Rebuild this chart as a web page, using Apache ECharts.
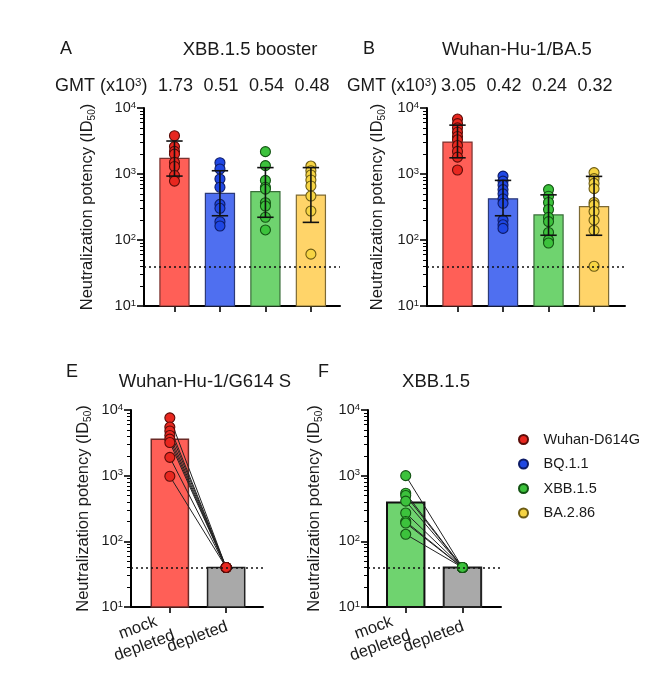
<!DOCTYPE html>
<html><head><meta charset="utf-8">
<script src="https://cdn.jsdelivr.net/npm/echarts@6/dist/echarts.min.js"></script>
<style>html,body{margin:0;padding:0;background:#fff}#c{width:669px;height:680px}</style>
</head><body><div id="c"></div>
<script>
// ---------------- data ----------------
const variants = ['Wuhan-D614G', 'BQ.1.1', 'XBB.1.5', 'BA.2.86'];
const yTicks = [10, 100, 1000, 10000];
const yMinorTicks = [20,30,40,50,60,70,80,90,200,300,400,500,600,700,800,900,2000,3000,4000,5000,6000,7000,8000,9000];
const limitOfDetection = 40;

const titleA = 'XBB.1.5 booster';
const titleB = 'Wuhan-Hu-1/BA.5';
const titleE = 'Wuhan-Hu-1/G614 S';
const titleF = 'XBB.1.5';

const gmtA = [1.73, 0.51, 0.54, 0.48];
const gmtB = [3.05, 0.42, 0.24, 0.32];
const barA = [1730, 510, 540, 480];
const barB = [3050, 420, 240, 320];
const errLowA = [930, 233, 221, 185];
const errHighA = [3160, 1120, 1250, 1250];
const errLowB = [1760, 233, 118, 118];
const errHighB = [5500, 800, 483, 920];

const ptsA_wuhan = [3800, 2600, 2200, 2000, 1500, 1300, 950, 780];
const ptsA_bq = [1480, 1190, 840, 630, 347, 302, 189, 163];
const ptsA_xbb = [2180, 1340, 800, 630, 590, 367, 327, 221, 142];
const ptsA_ba286 = [1320, 1120, 966, 811, 658, 464, 275, 61];

const ptsB_wuhan = [6800, 5800, 5000, 4300, 3700, 3300, 2700, 2200, 1800, 1150];
const ptsB_bq = [930, 780, 680, 580, 500, 420, 360, 200, 170, 150];
const ptsB_xbb = [580, 460, 370, 290, 220, 190, 130, 100, 90];
const ptsB_ba286 = [1050, 850, 720, 600, 370, 340, 270, 200, 140, 40];

const xLabelsEF = ['mock\ndepleted', 'depleted'];
const barE = [3600, 40];
const mockE = [7600, 5500, 4800, 4100, 3600, 3200, 1900, 980];
const deplE = [40, 40, 40, 40, 40, 40, 40, 40];
const barF = [390, 40];
const mockF = [1000, 540, 500, 410, 270, 200, 190, 128];
const deplF = [40, 40, 40, 40, 40, 40, 40, 40];

// ---------------- styles ----------------
const FONT = '"Liberation Sans", Arial, sans-serif';
const TXT = '#1a1a1a';
const barFill = ['#ff5f57', '#4f6ff0', '#6fd36f', '#ffd469'];
const barStroke = ['#7a3330', '#2c3a78', '#3a6e3a', '#7d6a35'];
const ptFill = ['#e8271f', '#1f47e4', '#3cc23c', '#f6d443'];
const ptStroke = ['#5a0c08', '#0d1b66', '#135313', '#6b5a12'];
const grayFill = '#a9a9a9';

const ptsA = [ptsA_wuhan, ptsA_bq, ptsA_xbb, ptsA_ba286];
const ptsB = [ptsB_wuhan, ptsB_bq, ptsB_xbb, ptsB_ba286];

const chart = echarts.init(document.getElementById('c'), null, {renderer: 'canvas'});

const grids = [
  {left: 144, top: 108, width: 196, height: 198},
  {left: 427, top: 108, width: 198, height: 198},
  {left: 131, top: 410, width: 132, height: 197},
  {left: 368, top: 410, width: 133, height: 197}
];
const xRanges = [[-0.67, 3.64], [-0.67, 3.68], [-0.69, 1.655], [-0.665, 1.68]];
const nameGaps = [47, 40, 38, 44];

function supLabel(v) {
  const e = Math.round(Math.log10(v));
  return '{b|10}{p|' + e + '}';
}

const xAxes = grids.map((g, i) => ({
  gridIndex: i, type: 'value', min: xRanges[i][0], max: xRanges[i][1], position: 'bottom',
  axisLine: {show: true, onZero: false, lineStyle: {color: '#000', width: 2}},
  axisTick: {show: true, customValues: i < 2 ? [0, 1, 2, 3] : [0, 1], length: 6, lineStyle: {color: '#000', width: 1.6}},
  axisLabel: {show: false},
  splitLine: {show: false}
}));

const yMajor = grids.map((g, i) => ({
  gridIndex: i, type: 'log', logBase: 10, min: 10, max: 10000, position: 'left',
  axisLine: {show: true, onZero: false, lineStyle: {color: '#000', width: 2}},
  axisTick: {show: true, customValues: yTicks, length: 7, lineStyle: {color: '#000', width: 1.6}},
  axisLabel: {show: true, customValues: yTicks, margin: 8, formatter: supLabel,
    rich: {b: {fontSize: 14.5, lineHeight: 16, fontFamily: FONT, color: TXT},
           p: {fontSize: 9.5, lineHeight: 9, verticalAlign: 'top', fontFamily: FONT, color: TXT}}},
  splitLine: {show: false},
  name: 'Neutralization potency (ID{s|50})', nameLocation: 'middle', nameGap: nameGaps[i], nameRotate: 90,
  nameTextStyle: {fontSize: 16.5, lineHeight: 20, fontFamily: FONT, color: TXT,
    rich: {s: {fontSize: 10, lineHeight: 10, verticalAlign: 'bottom', fontFamily: FONT, color: TXT}}}
}));
const yMinor = grids.map((g, i) => ({
  gridIndex: i, type: 'log', logBase: 10, min: 10, max: 10000, position: 'left', offset: 0,
  axisLine: {show: false, onZero: false},
  axisTick: {show: true, customValues: yMinorTicks, length: 4, lineStyle: {color: '#000', width: 1}},
  axisLabel: {show: false}, splitLine: {show: false}
}));

function barSeries(g, vals, fills, strokes, lw, half) {
  return {
    type: 'custom', xAxisIndex: g, yAxisIndex: g, z: 2, silent: true,
    data: vals.map((v, i) => [i, v]),
    renderItem: (p, api) => {
      const i = api.value(0), v = api.value(1);
      const a = api.coord([i - half, v]), b = api.coord([i + half, 10]);
      return {type: 'rect', shape: {x: a[0], y: a[1], width: b[0] - a[0], height: b[1] - a[1]},
        style: {fill: fills[i], stroke: strokes[i], lineWidth: lw}};
    }
  };
}
function errSeries(g, lo, hi, capHalf) {
  return {
    type: 'custom', xAxisIndex: g, yAxisIndex: g, z: 5, silent: true,
    data: lo.map((l, i) => [i, l, hi[i]]),
    renderItem: (p, api) => {
      const i = api.value(0);
      const a = api.coord([i, api.value(1)]), b = api.coord([i, api.value(2)]);
      const ca = api.coord([i - capHalf, api.value(1)]), cb = api.coord([i + capHalf, api.value(1)]);
      const st = {stroke: '#111', lineWidth: 1.6};
      return {type: 'group', children: [
        {type: 'line', shape: {x1: a[0], y1: a[1], x2: b[0], y2: b[1]}, style: st},
        {type: 'line', shape: {x1: ca[0], y1: a[1], x2: cb[0], y2: a[1]}, style: st},
        {type: 'line', shape: {x1: ca[0], y1: b[1], x2: cb[0], y2: b[1]}, style: st}
      ]};
    }
  };
}
function gmtSeries(g, gmt) {
  return {
    type: 'custom', xAxisIndex: g, yAxisIndex: g, silent: true, clip: false,
    data: gmt.map((v, i) => [i, v]),
    renderItem: (p, api) => {
      const x = api.coord([api.value(0), 10000])[0];
      return {type: 'text', x: x + 1, y: p.coordSys.y - 22,
        style: {text: api.value(1).toFixed(2), align: 'center', verticalAlign: 'middle',
          fontSize: 18, fontFamily: FONT, fill: TXT}};
    }
  };
}
function xLabelSeries(g, labels) {
  return {
    type: 'custom', xAxisIndex: g, yAxisIndex: g, silent: true, clip: false,
    data: labels.map((l, i) => [i, 10]),
    renderItem: (p, api) => {
      const i = api.value(0);
      const c = api.coord([i, 10]);
      const txt = labels[i].split('\n').map(s => '{c|' + s + '}').join('\n');
      return {type: 'text', x: c[0] + 1, y: c[1] + 19, rotation: 20 * Math.PI / 180,
        style: {text: txt, align: 'right', verticalAlign: 'middle',
          rich: {c: {align: 'center', fontSize: 16.5, lineHeight: 19, fontFamily: FONT, fill: TXT}}}};
    }
  };
}
function scatter(g, name, xi, vals, ci, withLod) {
  const s = {
    type: 'scatter', name: name, xAxisIndex: g, yAxisIndex: g, z: 4, silent: true,
    data: vals.map(v => [xi, v]), symbol: 'circle', symbolSize: 10,
    itemStyle: {color: ptFill[ci], borderColor: ptStroke[ci], borderWidth: 1.1, opacity: 1}
  };
  if (withLod) {
    s.markLine = {silent: true, symbol: ['none', 'none'], label: {show: false}, animation: false,
      lineStyle: {color: '#111', type: [2, 3], width: 1.6}, data: [{yAxis: limitOfDetection}]};
  }
  return s;
}
function pairLines(g, mock, depl) {
  return {
    type: 'custom', xAxisIndex: g, yAxisIndex: g, z: 3, silent: true,
    data: mock.map((v, k) => [v, depl[k]]),
    renderItem: (p, api) => {
      const a = api.coord([0, api.value(0)]), b = api.coord([1, api.value(1)]);
      return {type: 'line', shape: {x1: a[0], y1: a[1], x2: b[0], y2: b[1]}, style: {stroke: '#222', lineWidth: 1}};
    }
  };
}

const series = [];
series.push(barSeries(0, barA, barFill, barStroke, 1.2, 0.32));
series.push(barSeries(1, barB, barFill, barStroke, 1.2, 0.32));
series.push(barSeries(2, barE, [barFill[0], grayFill], ['#6b2a27', '#222'], 1.5, 0.33));
series.push(barSeries(3, barF, [barFill[2], grayFill], ['#111', '#222'], 2, 0.33));
ptsA.forEach((arr, i) => series.push(scatter(0, variants[i], i, arr, i, i === 0)));
ptsB.forEach((arr, i) => series.push(scatter(1, variants[i], i, arr, i, i === 0)));
series.push(errSeries(0, errLowA, errHighA, 0.18));
series.push(errSeries(1, errLowB, errHighB, 0.18));
series.push(gmtSeries(0, gmtA));
series.push(gmtSeries(1, gmtB));
series.push(pairLines(2, mockE, deplE));
series.push(pairLines(3, mockF, deplF));
series.push(scatter(2, variants[0], 0, mockE, 0, true));
series.push(scatter(2, variants[0], 1, deplE, 0, false));
series.push(scatter(3, variants[2], 0, mockF, 2, true));
series.push(scatter(3, variants[2], 1, deplF, 2, false));
series.push(xLabelSeries(2, xLabelsEF));
series.push(xLabelSeries(3, xLabelsEF));

function txt(x, y, text, size, align, rich) {
  return {type: 'text', x: x, y: y, silent: true,
    style: {text: text, fontSize: size, fontFamily: FONT, fill: TXT, align: align || 'left', verticalAlign: 'middle', rich: rich}};
}
const supRich = {p: {fontSize: 11.5, verticalAlign: 'top', lineHeight: 11, fontFamily: FONT, fill: TXT, color: TXT}};

chart.setOption({
  animation: false,
  backgroundColor: '#fff',
  textStyle: {fontFamily: FONT},
  grid: grids.map(g => Object.assign({containLabel: false}, g)),
  xAxis: xAxes,
  yAxis: yMajor.concat(yMinor),
  legend: {
    data: variants, orient: 'vertical', left: 513, top: 427, selectedMode: false,
    icon: 'circle', itemWidth: 30, itemHeight: 9, itemGap: 9.5,
    textStyle: {fontSize: 14.5, fontFamily: FONT, color: TXT}
  },
  graphic: [
    txt(60, 49, 'A', 18),
    txt(250, 50, titleA, 18.5, 'center'),
    txt(55, 86, 'GMT (x10{p|3})', 18, 'left', supRich),
    txt(363, 49, 'B', 18),
    txt(517, 50, titleB, 18.5, 'center'),
    txt(347, 86, 'GMT (x10{p|3})', 17.5, 'left', supRich),
    txt(66, 372, 'E', 18),
    txt(205, 382, titleE, 18.5, 'center'),
    txt(318, 372, 'F', 18),
    txt(436, 382, titleF, 18.5, 'center')
  ],
  series: series
});
</script>
</body></html>
